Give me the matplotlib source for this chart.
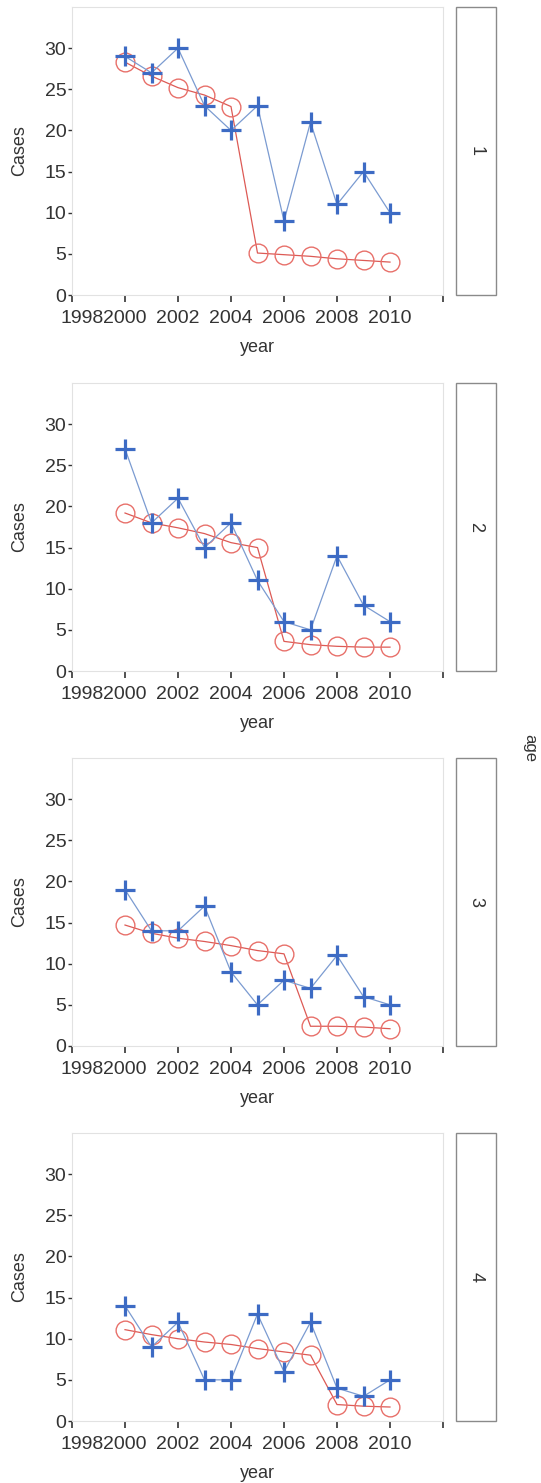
import numpy as np
import matplotlib
matplotlib.use('Agg')
import matplotlib.pyplot as plt
import matplotlib.transforms as mtransforms
from matplotlib.patches import Rectangle

plt.rcParams['font.family'] = ['Liberation Sans', 'DejaVu Sans']

years = np.arange(2000, 2011)
age_groups = ['1', '2', '3', '4']

observed_1 = [29, 27, 30, 23, 20, 23, 9, 21, 11, 15, 10]
fitted_1 = [28.3, 26.6, 25.2, 24.3, 22.9, 5.1, 4.9, 4.7, 4.4, 4.2, 4.0]
observed_2 = [27, 18, 21, 15, 18, 11, 6, 5, 14, 8, 6]
fitted_2 = [19.2, 18.0, 17.4, 16.7, 15.6, 15.0, 3.6, 3.2, 3.0, 2.9, 2.9]
observed_3 = [19, 14, 14, 17, 9, 5, 8, 7, 11, 6, 5]
fitted_3 = [14.7, 13.7, 13.1, 12.7, 12.2, 11.6, 11.2, 2.4, 2.4, 2.3, 2.1]
observed_4 = [14, 9, 12, 5, 5, 13, 6, 12, 4, 3, 5]
fitted_4 = [11.1, 10.5, 10.0, 9.6, 9.3, 8.8, 8.4, 8.0, 2.0, 1.8, 1.7]

observed = [observed_1, observed_2, observed_3, observed_4]
fitted = [fitted_1, fitted_2, fitted_3, fitted_4]

x_ticks = np.arange(1998, 2013, 2)
x_labels = ['1998', '2000', '2002', '2004', '2006', '2008', '2010', '']
y_ticks = np.arange(0, 31, 5)

W, H = 541, 1483
fig = plt.figure(figsize=(W / 100, H / 100), dpi=100)

tops = [7, 383, 758, 1133]
left, width, height = 72, 371, 288
strip_left, strip_w = 456, 40

for i, top in enumerate(tops):
    ax = fig.add_axes([left / W, 1 - (top + height) / H, width / W, height / H])
    ax.plot(years, fitted[i], color='#dd5a55', lw=0.9, marker='o', ms=13.5,
            mfc='none', mec='#e8706a', mew=1.0, zorder=2)
    ax.plot(years, observed[i], color='#7b9bd1', lw=0.9, marker='+', ms=14,
            mec='#3d6bc4', mew=2.3, zorder=3)
    ax.set_xlim(1998, 2012)
    ax.set_ylim(0, 35)
    ax.set_xticks(x_ticks)
    ax.set_xticklabels(x_labels)
    ax.set_yticks(y_ticks)
    ax.tick_params(axis='x', length=5, width=1.2, pad=6, labelsize=14,
                   colors='#333333')
    ax.tick_params(axis='y', length=3, width=1.0, pad=1, labelsize=14,
                   colors='#333333')
    # first year label sits pushed right, against 2000
    lab = ax.get_xticklabels()[0]
    lab.set_transform(lab.get_transform() +
                      mtransforms.ScaledTranslation(0.1, 0, fig.dpi_scale_trans))
    for s in ax.spines.values():
        s.set_color('#e2e2e2')
        s.set_linewidth(0.8)
    ax.set_xlabel('year', fontsize=13, color='#333333')
    ax.xaxis.set_label_coords(0.5, -0.184)
    ax.xaxis.label.set_va('center')
    ax.set_ylabel('Cases', fontsize=13, color='#333333')
    ax.yaxis.set_label_coords(-0.14, 0.5)
    ax.yaxis.label.set_va('center')

    # strip on the right
    sx = strip_left / W
    sy = 1 - (top + height) / H
    fig.patches.append(Rectangle((sx, sy), strip_w / W, height / H,
                                 transform=fig.transFigure, facecolor='white',
                                 edgecolor='#8a8a8a', lw=1.0))
    fig.text(sx + strip_w / W / 2, sy + height / H / 2, age_groups[i],
             rotation=-90, ha='center', va='center', fontsize=13,
             color='#333333')

fig.text(530 / W, 1 - 748 / H, 'age', rotation=-90, ha='center', va='center',
         fontsize=12, color='#333333')

fig.savefig('out.png', dpi=100, facecolor='white')
